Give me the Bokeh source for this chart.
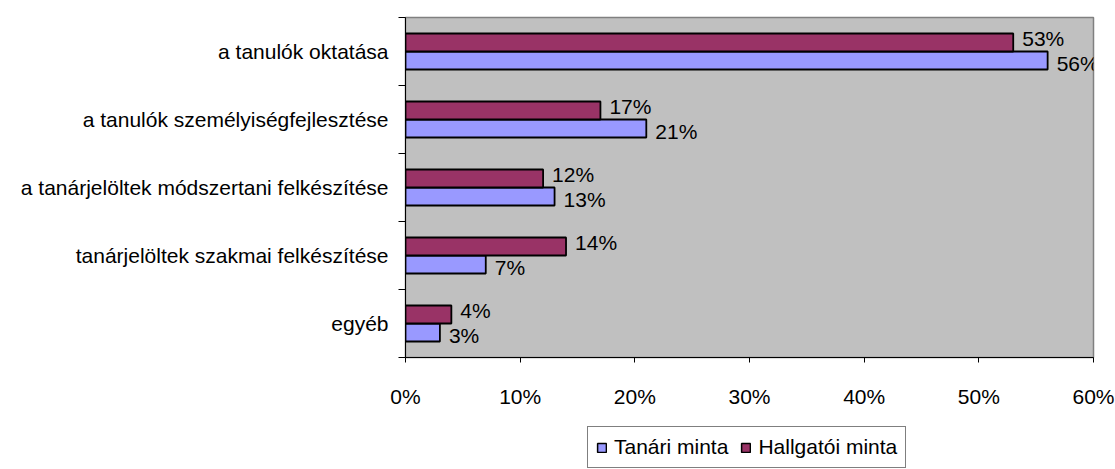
from bokeh.plotting import figure
from bokeh.layouts import column
from bokeh.models import (FixedTicker, PrintfTickFormatter, Legend, LegendItem,
                          Range1d, ColumnDataSource)
from bokeh.core.properties import value
from bokeh.embed import file_html
from bokeh.resources import INLINE

# ---- data ----
categories = ["a tanulók oktatása",
              "a tanulók személyiségfejlesztése",
              "a tanárjelöltek módszertani felkészítése",
              "tanárjelöltek szakmai felkészítése",
              "egyéb"]
tanari = [56, 21, 13, 7, 3]        # Tanári minta (%)
hallgatoi = [53, 17, 12, 14, 4]    # Hallgatói minta (%)
x_ticks = [0, 10, 20, 30, 40, 50, 60]
series_names = ["Tanári minta", "Hallgatói minta"]

FONT = "Liberation Sans"
FS = "21px"
BLUE = "#9999FF"
PURPLE = "#993366"

n = len(categories)
centers = [n - i - 0.5 for i in range(n)]
bar_h = 0.265

src_t = ColumnDataSource(dict(y=[c - bar_h / 2 for c in centers], v=tanari,
                              lbl=[f"{v}%" for v in tanari]))
src_h = ColumnDataSource(dict(y=[c + bar_h / 2 for c in centers], v=hallgatoi,
                              lbl=[f"{v}%" for v in hallgatoi]))

p = figure(width=1115, height=420, x_range=Range1d(0, 60), y_range=Range1d(0, n),
           output_backend="svg", toolbar_location=None,
           min_border_left=405, min_border_right=22, min_border_top=17,
           min_border_bottom=63)
p.background_fill_color = "#C0C0C0"
p.border_fill_color = "white"
p.outline_line_color = "#808080"
p.outline_line_width = 1.5
p.xgrid.visible = False
p.ygrid.visible = False

r_t = p.hbar(y="y", right="v", left=0, height=bar_h, source=src_t,
             fill_color=BLUE, line_color="black", line_width=1.8)
r_h = p.hbar(y="y", right="v", left=0, height=bar_h, source=src_h,
             fill_color=PURPLE, line_color="black", line_width=1.8)

p.text(x="v", y="y", text="lbl", source=src_h, x_offset=9, y_offset=-4,
       text_baseline="middle", text_align="left", text_font=value(FONT),
       text_font_size=FS, text_color="black")
p.text(x="v", y="y", text="lbl", source=src_t, x_offset=9, y_offset=3,
       text_baseline="middle", text_align="left", text_font=value(FONT),
       text_font_size=FS, text_color="black")

# y axis: labels at category centres, tick marks at band boundaries
ya = p.yaxis[0]
ya.ticker = FixedTicker(ticks=centers, minor_ticks=list(range(n + 1)))
ya.major_label_overrides = {c: cat for c, cat in zip(centers, categories)}
ya.major_tick_out = 0
ya.major_tick_in = 0
ya.minor_tick_out = 7
ya.minor_tick_in = 0
ya.minor_tick_line_color = "black"
ya.axis_line_color = "black"
ya.major_label_standoff = 10
ya.major_label_text_font = FONT
ya.major_label_text_font_size = FS
ya.major_label_text_color = "black"

xa = p.xaxis[0]
xa.ticker = FixedTicker(ticks=x_ticks, minor_ticks=[])
xa.formatter = PrintfTickFormatter(format="%d%%")
xa.major_tick_out = 5
xa.major_tick_in = 0
xa.major_tick_line_color = "black"
xa.axis_line_color = "black"
xa.major_label_standoff = 22
xa.major_label_text_font = FONT
xa.major_label_text_font_size = FS
xa.major_label_text_color = "black"

# ---- legend strip below the chart (its frame is aligned with the chart's) ----
lg = figure(width=1115, height=49, x_range=Range1d(0, 1), y_range=Range1d(0, 1),
            output_backend="svg", toolbar_location=None,
            x_axis_type=None, y_axis_type=None,
            min_border_left=0, min_border_right=0, min_border_top=0,
            min_border_bottom=0)
lg.outline_line_color = None
lg.background_fill_color = "white"
lg.xgrid.visible = False
lg.ygrid.visible = False
# legend keys only (hidden renderers, used just for the legend swatches)
key = dict(y=[0.5], l=[0.0], r=[0.1])
k_t = lg.hbar(y="y", right="r", left="l", height=0.1, source=ColumnDataSource(key),
              fill_color=BLUE, line_color="black", line_width=1.5)
k_h = lg.hbar(y="y", right="r", left="l", height=0.1, source=ColumnDataSource(key),
              fill_color=PURPLE, line_color="black", line_width=1.5)
k_t.visible = False
k_h.visible = False
legend = Legend(items=[LegendItem(label=series_names[0], renderers=[k_t]),
                       LegendItem(label=series_names[1], renderers=[k_h])],
                orientation="horizontal", location=(182, 1),
                border_line_color="black", border_line_width=1,
                background_fill_color="white", background_fill_alpha=1,
                glyph_width=11, glyph_height=11, label_standoff=7, spacing=12,
                padding=8, margin=0, label_text_font=FONT,
                label_text_font_size="21px", label_text_color="black")
lg.add_layout(legend)

layout = column(p, lg, spacing=0)
open("out.html", "w").write(file_html(layout, INLINE))
